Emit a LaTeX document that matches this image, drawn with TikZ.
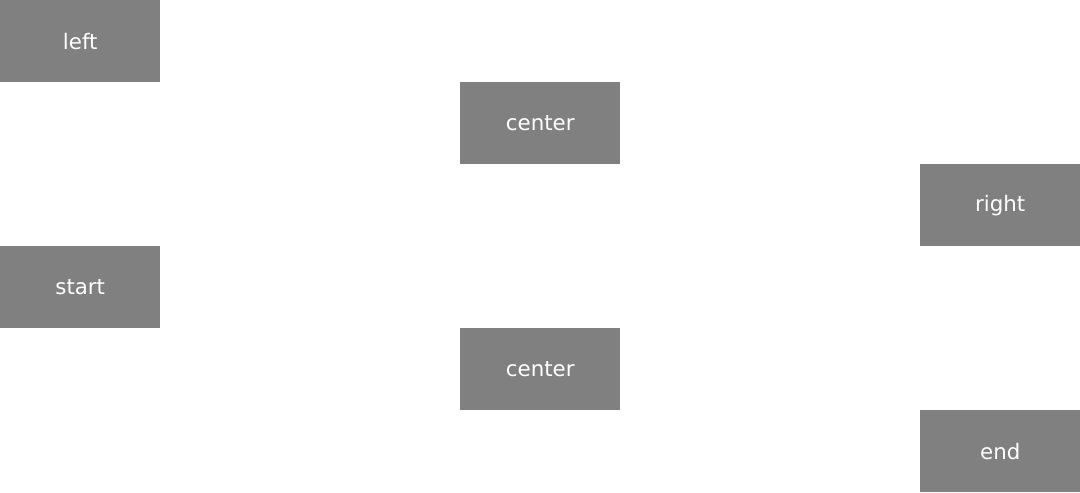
\documentclass[tikz,border=0pt]{standalone}
\usepackage{fontspec}
\setmainfont{DejaVu Sans}
\begin{document}
\begin{tikzpicture}[x=0.75pt,y=-0.75pt,
  box/.style={fill={rgb,255:red,128;green,128;blue,128}, draw=none, text=white,
    minimum width=120pt, minimum height=61.5pt, inner sep=0pt, anchor=north west,
    font=\fontsize{16}{19}\selectfont}]
\useasboundingbox (0,0) rectangle (1080,492);
\node[box] (left) at (0,0) {left};
\node[box] (center1) at (460,82) {center};
\node[box] (right) at (920,164) {right};
\node[box] (start) at (0,246) {start};
\node[box] (center2) at (460,328) {center};
\node[box] (end) at (920,410) {end};
\end{tikzpicture}
\end{document}
